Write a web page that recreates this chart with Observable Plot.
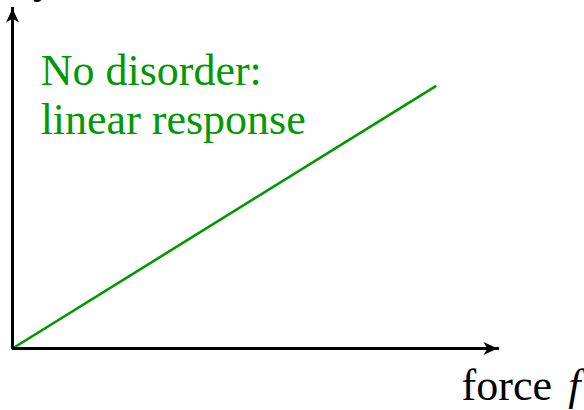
<!DOCTYPE html>
<html>
<head>
<meta charset="utf-8">
<script src="https://cdn.jsdelivr.net/npm/d3@7"></script>
<script src="https://cdn.jsdelivr.net/npm/@observablehq/plot@0.6"></script>
<style>
  html, body { margin: 0; padding: 0; background: #fff; }
</style>
</head>
<body>
<div id="chart"></div>
<script>
// Response of a clean system: velocity grows linearly with the applied force.
const force = [0, 0.872];
const velocity = [0, 0.771];

// Axes drawn as a single polyline: top of the velocity axis, origin, end of the force axis.
const axisX = [0, 0, 1];
const axisY = [1, 0, 0];

// Arrowhead positions and directions (degrees clockwise from up).
const headX = [0, 1];
const headY = [1, 0];
const headAngle = [0, 90];

// Annotations (data coordinates).
const noteText = ["No disorder:\nlinear response"];
const noteX = [0.058];
const noteY = [0.632];

const xLabelText = ["force"];
const xLabelX = [0.926];
const xLabelSymbol = ["f"];
const xLabelSymbolX = [1.146];
const xLabelY = [-0.15];

const yLabelText = ["velocity"];
const yLabelX = [0.087];
const yLabelSymbol = ["v"];
const yLabelSymbolX = [0.104];
const yLabelY = [1.047];

const green = "#009900";
const serif = "'Liberation Serif', 'DejaVu Serif', serif";

// Filled "stealth" arrowhead, tip at the origin, pointing up.
const stealth = {
  draw(context, size) {
    const u = Math.sqrt(size / Math.PI) / 7;
    context.moveTo(0, 0);
    context.lineTo(6.5 * u, 14 * u);
    context.lineTo(0, 10 * u);
    context.lineTo(-6.5 * u, 14 * u);
    context.closePath();
  }
};

const axisLine = axisX.map((x, i) => ({x, y: axisY[i]}));
const response = force.map((f, i) => ({f, v: velocity[i]}));
const heads = headX.map((x, i) => ({x, y: headY[i], a: headAngle[i]}));

const textStyle = {text: d => d, lineAnchor: "bottom", fontSize: 44, fontFamily: serif};

const plot = Plot.plot({
  width: 584,
  height: 410,
  marginLeft: 12,
  marginRight: 87,
  marginTop: 8,
  marginBottom: 62,
  x: {domain: [0, 1], axis: null},
  y: {domain: [0, 1], axis: null},
  marks: [
    Plot.line(response, {x: "f", y: "v", stroke: green, strokeWidth: 2.6}),
    Plot.line(axisLine, {x: "x", y: "y", stroke: "#000", strokeWidth: 3, strokeLinejoin: "miter", strokeLinecap: "square"}),
    Plot.dot(heads, {x: "x", y: "y", rotate: "a", r: 7, symbol: stealth, fill: "#000", stroke: "none"}),
    Plot.text(noteText, {...textStyle, x: noteX, y: noteY, textAnchor: "start", lineHeight: 1.1, fill: green}),
    Plot.text(xLabelText, {...textStyle, x: xLabelX, y: xLabelY, textAnchor: "start", fill: "#000"}),
    Plot.text(xLabelSymbol, {...textStyle, x: xLabelSymbolX, y: xLabelY, textAnchor: "start", fill: "#000", fontStyle: "italic"}),
    Plot.text(yLabelText, {...textStyle, x: yLabelX, y: yLabelY, textAnchor: "end", fill: "#000"}),
    Plot.text(yLabelSymbol, {...textStyle, x: yLabelSymbolX, y: yLabelY, textAnchor: "start", fill: "#000", fontStyle: "italic"})
  ]
});

document.getElementById("chart").append(plot);
</script>
</body>
</html>
